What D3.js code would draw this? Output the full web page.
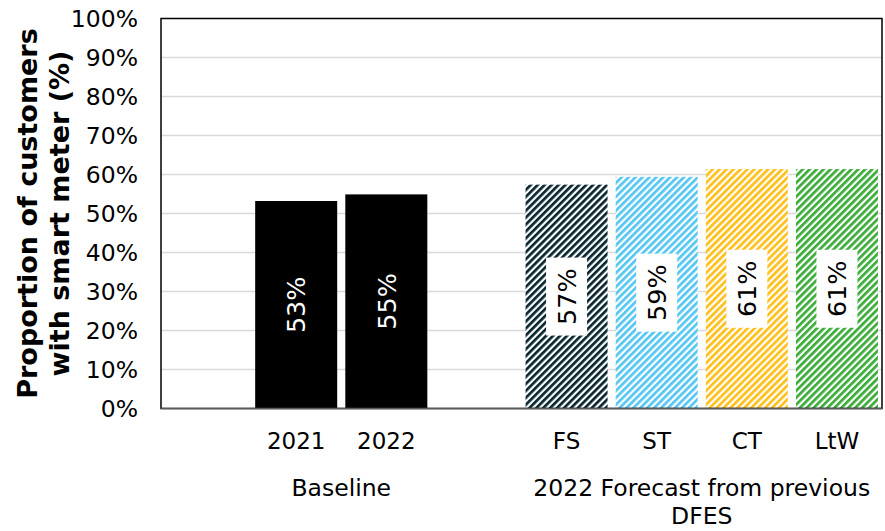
<!DOCTYPE html>
<html>
<head>
<meta charset="utf-8">
<script src="https://cdn.jsdelivr.net/npm/d3@7"></script>
<style>
  html, body { margin: 0; padding: 0; background: #fff; }
  svg { display: block; font-family: "DejaVu Sans", Verdana, sans-serif; }
</style>
</head>
<body>
<svg id="chart" width="885" height="531"></svg>
<script>
// Slots along the x axis; blank slots separate the two groups
const slots = ["gapA", "2021", "2022", "gapB", "FS", "ST", "CT", "LtW"];
const categories = ["2021", "2022", "FS", "ST", "CT", "LtW"];
const values = [53.2, 54.9, 57.4, 59.4, 61.4, 61.4];
const fills = ["#000000", "#000000", "#08252f", "#55c6f2", "#ffbf1a", "#39ab37"];
const hatched = [false, false, true, true, true, true];
const yTicks = [0, 10, 20, 30, 40, 50, 60, 70, 80, 90, 100];
const groupNames = ["Baseline", "2022 Forecast from previous DFES"];
const groupLines = [["Baseline"], ["2022 Forecast from previous", "DFES"]];
const groupMembers = [["2021", "2022"], ["FS", "ST", "CT", "LtW"]];
const yTitleLines = ["Proportion of customers", "with smart meter (%)"];

const svg = d3.select("#chart");
const plot = { left: 161, right: 882, top: 18.5, bottom: 408.5 };

const x = d3.scaleBand().domain(slots).range([plot.left, plot.right])
  .paddingInner(0.09).paddingOuter(0.045);
const y = d3.scaleLinear().domain([0, 100]).range([plot.bottom, plot.top]);

// Diagonal hatch patterns for the forecast bars
const defs = svg.append("defs");
const hp = 4.9;
categories.forEach((c, i) => {
  if (!hatched[i]) return;
  const p = defs.append("pattern")
    .attr("id", "hatch-" + c)
    .attr("patternUnits", "userSpaceOnUse")
    .attr("width", hp).attr("height", hp)
    .attr("patternTransform", "rotate(45)");
  p.append("rect").attr("width", hp).attr("height", hp).attr("fill", "#fff");
  p.append("rect").attr("width", hp * 0.55).attr("height", hp).attr("fill", fills[i]);
});

// Gridlines
svg.append("g").selectAll("line").data(yTicks.filter(t => t > 0 && t < 100)).join("line")
  .attr("x1", plot.left).attr("x2", plot.right)
  .attr("y1", d => y(d)).attr("y2", d => y(d))
  .attr("stroke", "#d9d9d9").attr("stroke-width", 1.5);

// Y axis tick labels
const yAxis = d3.axisLeft(y).tickValues(yTicks).tickFormat(d => d + "%").tickSize(0).tickPadding(23);
const gy = svg.append("g").attr("transform", `translate(${plot.left},0)`).call(yAxis);
gy.select(".domain").remove();
gy.selectAll("text").attr("font-size", 23.5).attr("fill", "#000")
  .attr("font-family", "'DejaVu Sans', Verdana, sans-serif");

// Bars
const data = categories.map((c, i) => ({ c, v: values[i], fill: fills[i], hatched: hatched[i] }));
svg.append("g").selectAll("rect").data(data).join("rect")
  .attr("x", d => x(d.c)).attr("width", x.bandwidth())
  .attr("y", d => y(d.v)).attr("height", d => y(0) - y(d.v))
  .attr("fill", d => d.hatched ? `url(#hatch-${d.c})` : d.fill);

// Value labels, rotated, centred in each bar
const lab = svg.append("g").selectAll("g").data(data).join("g")
  .attr("transform", d => `translate(${x(d.c) + x.bandwidth() / 2},${(y(d.v) + y(0)) / 2}) rotate(-90)`);
lab.filter(d => d.hatched).append("rect")
  .attr("x", -39).attr("y", -20.5).attr("width", 78).attr("height", 41).attr("fill", "#fff");
lab.append("text")
  .attr("text-anchor", "middle").attr("dy", "0.36em")
  .attr("font-size", 25.5)
  .attr("fill", d => d.hatched ? "#000" : "#fff")
  .text(d => Math.round(d.v) + "%");

// Plot frame and baseline
svg.append("rect")
  .attr("x", plot.left).attr("y", plot.top)
  .attr("width", plot.right - plot.left).attr("height", plot.bottom - plot.top)
  .attr("fill", "none").attr("stroke", "#000").attr("stroke-width", 1.5);
svg.append("line")
  .attr("x1", plot.left).attr("x2", plot.right).attr("y1", plot.bottom).attr("y2", plot.bottom)
  .attr("stroke", "#595959").attr("stroke-width", 1.5);

// Category labels
const xAxis = d3.axisBottom(x).tickValues(categories).tickSize(0).tickPadding(24);
const gx = svg.append("g").attr("transform", `translate(0,${plot.bottom})`).call(xAxis);
gx.select(".domain").remove();
gx.selectAll("text").attr("font-size", 23).attr("fill", "#000")
  .attr("font-family", "'DejaVu Sans', Verdana, sans-serif");

// Group labels
groupNames.forEach((g, i) => {
  const m = groupMembers[i];
  const cx = (x(m[0]) + x(m[m.length - 1]) + x.bandwidth()) / 2;
  const t = svg.append("text").attr("text-anchor", "middle").attr("font-size", 23.5).attr("fill", "#000");
  groupLines[i].forEach((line, j) => {
    t.append("tspan").attr("x", cx).attr("y", 496 + j * 28).text(line);
  });
});

// Y axis title
const yt = svg.append("text")
  .attr("transform", `translate(0,${(plot.top + plot.bottom) / 2}) rotate(-90)`)
  .attr("text-anchor", "middle").attr("font-size", 27).attr("font-weight", "bold").attr("fill", "#000");
yTitleLines.forEach((line, j) => {
  yt.append("tspan").attr("x", 0).attr("y", 37 + j * 32).text(line);
});
</script>
</body>
</html>
